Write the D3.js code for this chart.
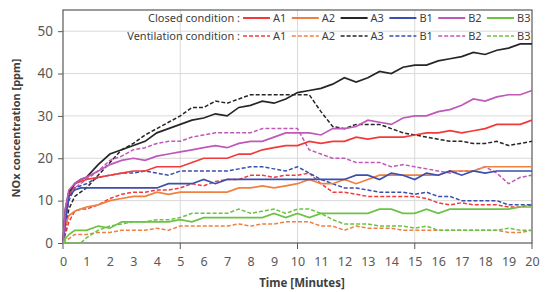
<!DOCTYPE html>
<html><head><meta charset="utf-8">
<script src="https://cdn.jsdelivr.net/npm/d3@7"></script>
<style>body{margin:0;background:#fff}svg{display:block}text{font-family:"Noto Sans","Open Sans",sans-serif}</style>
</head><body><svg id="c" width="545" height="292"></svg>
<script>
const times = [0,0.1,0.25,0.5,0.75, 1,1.5,2,2.5,3,3.5,4,4.5, 5,5.5,6,6.5,7,7.5,8,8.5,9,9.5, 10,10.5,11,11.5,12,12.5,13,13.5,14,14.5, 15,15.5,16,16.5,17,17.5,18,18.5,19,19.5, 20];
const xTicks = d3.range(0,21);
const yTicks = [0,10,20,30,40,50];
const seriesNames = ["A1","A2","A3","B1","B2","B3"];
const seriesColors = ["#f23a3a","#ef8040","#262626","#3a4fae","#c058b8","#6cc244"];
// Closed condition
const closedA1 = [0,6,11,14,14.5, 15,15.5,16,16.5,17,17,18,18, 18,19,20,20,20,21,21,22,22.5,23, 23,24,23.5,24,24,25,24.5,25,25,25, 25.5,26,26,26.5,26,26.5,27,28,28,28, 29];
const closedA2 = [0,4,6.5,7.5,8, 8.5,9,10,10.5,11,11,12,11.5, 12,12,12,12,12,13,13,13.5,13,13.5, 14,15,14,14,15,14,15,16,16,16, 16,16,16,17,17,17,18,18,18,18, 18];
const closedA3 = [0,8,12,14,15, 15.5,18.5,21,22,23,24,26,27, 28,29,29.5,30.5,30,32,32.5,33.5,33,34, 35.5,36,36.5,37.5,39,38,39,40.5,40,41.5, 42,42,43,43.5,44,45,44.5,45.5,46,47, 47];
const closedB1 = [0,5,11,12.5,13, 13,13,13,13,13,13,13,14, 14,14,15,14,15,15,15,15,15,15, 15,15,15,15,15,16,16,15,16.5,16, 15,16.5,16,17,16,17,16.5,17,17,17, 17];
const closedB2 = [0,8,12.5,14,15, 15.5,17,18.5,19.5,20,19.5,20.5,21, 21.5,22,22.5,23,22.5,23.5,24,24,25,26, 26,26,25.5,27,27,27.5,29,28.5,28,29.5, 30,30,31,31.5,32.5,34,33.5,34.5,35,35, 36];
const closedB3 = [0,1,2,3,3, 3,4,3.5,5,5,5,5,5, 5.5,5,6,6,6,6,6,6,7,6, 7,6,7,7,7,7,7,8,8,7, 7,8,7,8,8,8,8,8,8,8.5, 8.5];
// Ventilation condition
const ventA1 = [0,2,5,7.5,8, 8,9,10.5,11.5,12,12,12.5,12.5, 13,14,13.5,14.5,15,15,16,16,15.5,16, 16,16.5,14,12,12,11.5,11,11,11,11, 11,10.5,9.5,9,9.5,9,9,9,8.5,8.5, 9];
const ventA2 = [0,0.5,1,2,2, 2,2.5,2.5,3,3,3,3.5,3, 4,4,4,4,4,4.5,4,4.5,4.5,5, 5,5,4,4,3,4,3.5,3.5,3.5,3, 3,3,3,3,3,3,3,3,2.5,2.5, 3];
const ventA3 = [0,3,8,11,12, 13,16,19,22,23.5,25.5,27,28.5, 30,32,32,33.5,33,34,35,35,35,35, 35,35,31,27.5,27,28,28,28,27,26, 25.5,25,24.5,24,24,23.5,23.5,24,23,23.5, 24];
const ventB1 = [0,5,10,13,13.5, 14,15.5,16,16.5,16.5,17,16.5,16, 17,17,17,17,17,17.5,18,18,17.5,17, 18,16.5,15,14,13,13,12.5,12,12,12, 11.5,12,11,11,10,10,10,10,9,9, 9];
const ventB2 = [0,6,12,13,14, 15,17,19.5,20.5,22,22.5,23.5,24, 24,25,25.5,26,26,26,26,27,27,27, 27,22,21,20,20,19,19,19,18,18.5, 18,17.5,17,16.5,17,17,18,16.5,14,15.5, 16];
const ventB3 = [0,0,0,0,0, 1.2,3,4,4.5,5,5,5.5,5.5, 6,7,7,7,7,8,7,7.5,8,7, 8,8,7,5.5,4.5,4.5,4.5,4,4,4, 3.5,4,3,3,3,3,3,3,3.5,3, 3];

const closed = [closedA1,closedA2,closedA3,closedB1,closedB2,closedB3];
const vent = [ventA1,ventA2,ventA3,ventB1,ventB2,ventB3];

const svg = d3.select("#c");
const L=63, R=532, T=10, B=243;
const x = d3.scaleLinear().domain([0,20]).range([L,R]);
const y = d3.scaleLinear().domain([0,55]).range([B,T]);
const gridC="#d9d9d9", axC="#595959", txtC="#404040";

// grid
svg.append("g").selectAll("line").data([5,10,15]).join("line")
  .attr("x1",d=>x(d)).attr("x2",d=>x(d)).attr("y1",T).attr("y2",B)
  .attr("stroke",gridC).attr("stroke-width",1);
svg.append("g").selectAll("line").data(yTicks.filter(d=>d>0)).join("line")
  .attr("x1",L).attr("x2",R).attr("y1",d=>y(d)).attr("y2",d=>y(d))
  .attr("stroke",gridC).attr("stroke-width",1);

// axes
const xAxis = svg.append("g").attr("transform",`translate(0,${B})`)
  .call(d3.axisBottom(x).tickValues(xTicks).tickFormat(d3.format("d")).tickSize(0).tickPadding(14));
xAxis.select(".domain").remove();
xAxis.selectAll("text").attr("fill","#595959").style("font-size","12.5px");
svg.append("g").selectAll("line").data([0,5,10,15,20]).join("line")
  .attr("x1",d=>x(d)).attr("x2",d=>x(d)).attr("y1",B).attr("y2",B+6)
  .attr("stroke",axC);
const yAxis = svg.append("g").attr("transform",`translate(${L},0)`)
  .call(d3.axisLeft(y).tickValues(yTicks).tickSize(5).tickPadding(5));
yAxis.select(".domain").remove();
yAxis.selectAll("line").attr("stroke",axC);
yAxis.selectAll("text").attr("fill","#595959").style("font-size","13.5px");

// frame
svg.append("rect").attr("x",L).attr("y",T).attr("width",R-L).attr("height",B-T)
  .attr("fill","none").attr("stroke",axC).attr("stroke-width",1.2);

// lines
const line = arr => d3.line().x((d,i)=>x(times[i])).y(d=>y(d))(arr);
const g = svg.append("g");
vent.forEach((s,i)=>{
  g.append("path").attr("d",line(s)).attr("fill","none").attr("stroke",seriesColors[i])
   .attr("stroke-width",1.5).attr("stroke-dasharray","4,2");
});
closed.forEach((s,i)=>{
  g.append("path").attr("d",line(s)).attr("fill","none").attr("stroke",seriesColors[i])
   .attr("stroke-width",1.7);
});

// legend
const rows = [{label:"Closed condition :", dash:null, yy:18},{label:"Ventilation  condition :", dash:"4,2", yy:36}];
rows.forEach(r=>{
  svg.append("text").attr("x",240).attr("y",r.yy).attr("dy","0.35em").attr("text-anchor","end")
    .attr("fill",txtC).style("font-size","11px").text(r.label);
  seriesNames.forEach((n,i)=>{
    const x0 = 243 + i*48.8;
    svg.append("line").attr("x1",x0).attr("x2",x0+27).attr("y1",r.yy).attr("y2",r.yy)
      .attr("stroke",seriesColors[i]).attr("stroke-width",r.dash?1.6:2)
      .attr("stroke-dasharray",r.dash);
    svg.append("text").attr("x",x0+30).attr("y",r.yy).attr("dy","0.35em")
      .attr("fill",txtC).style("font-size","11px").text(n);
  });
});

// titles
svg.append("text").attr("x",302).attr("y",287).attr("text-anchor","middle")
  .attr("fill",txtC).style("font-size","11.5px").style("font-weight","bold").text("Time [Minutes]");
svg.append("text").attr("transform","translate(20,128) rotate(-90)").attr("text-anchor","middle")
  .attr("fill",txtC).style("font-size","11px").style("font-weight","bold").text("NOx concentration [ppm]");
</script></body></html>
